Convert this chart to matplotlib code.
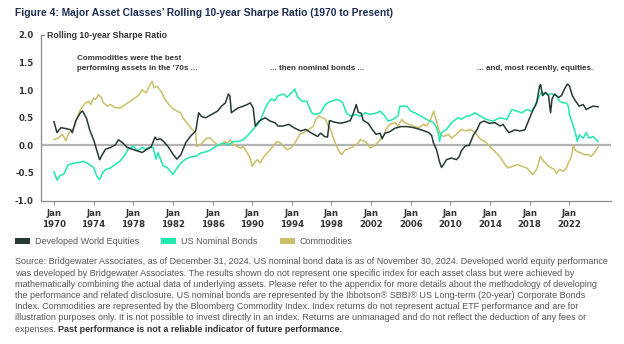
import numpy as np
import matplotlib
matplotlib.use("Agg")
import matplotlib.pyplot as plt
from matplotlib.patches import Rectangle

# ----------------------------------
# data (decimal years)
eq_years = [1970.0, 1970.3, 1970.7, 1971.3, 1971.7, 1971.85, 1972.2, 1972.7, 1972.9, 1973.3,
            1973.6, 1974.0, 1974.3, 1974.6, 1974.9, 1975.2, 1975.7, 1976.2, 1976.5, 1976.9,
            1977.4, 1977.9, 1978.4, 1978.9, 1979.3, 1979.8, 1980.2, 1980.4, 1980.7, 1981.0,
            1981.5, 1982.0, 1982.4, 1982.8, 1983.3, 1983.8, 1984.3, 1984.6, 1984.9, 1985.3,
            1985.8, 1986.5, 1986.9, 1987.3, 1987.6, 1987.75, 1987.9, 1988.1, 1988.6, 1989.1,
            1989.5, 1989.8, 1990.1, 1990.3, 1990.7, 1991.0, 1991.3, 1991.8, 1992.3, 1992.6,
            1993.1, 1993.7, 1994.2, 1994.9, 1995.4, 1995.9, 1996.6, 1996.9, 1997.3, 1997.6,
            1997.8, 1998.3, 1998.9, 1999.4, 1999.9, 2000.2, 2000.5, 2000.7, 2001.0, 2001.2,
            2001.7, 2002.1, 2002.5, 2002.9, 2003.1, 2003.4, 2003.9, 2004.4, 2005.0, 2005.6,
            2006.3, 2006.9, 2007.4, 2007.8, 2008.1, 2008.3, 2008.6, 2008.9, 2009.1, 2009.3,
            2009.6, 2010.1, 2010.6, 2010.9, 2011.1, 2011.5, 2011.9, 2012.3, 2012.7, 2013.0,
            2013.4, 2013.9, 2014.5, 2015.0, 2015.3, 2015.6, 2015.9, 2016.5, 2017.0, 2017.5,
            2017.8, 2018.2, 2018.7, 2019.0, 2019.1, 2019.3, 2019.6, 2019.9, 2020.1, 2020.25,
            2020.5, 2020.9, 2021.2, 2021.5, 2021.8, 2022.0, 2022.3, 2022.6, 2023.0, 2023.4,
            2023.7, 2024.0, 2024.4, 2024.9]
eq_values = [0.43, 0.23, 0.32, 0.30, 0.28, 0.23, 0.45, 0.60, 0.62, 0.48,
             0.28, 0.10, -0.08, -0.26, -0.16, -0.07, -0.04, 0.01, 0.10, 0.05,
             -0.04, -0.07, -0.10, -0.13, -0.08, -0.03, 0.15, 0.10, 0.12, 0.08,
             -0.02, -0.16, -0.25, -0.17, 0.05, 0.17, 0.26, 0.59, 0.52, 0.50,
             0.55, 0.62, 0.71, 0.77, 0.93, 0.89, 0.59, 0.62, 0.68, 0.71,
             0.74, 0.77, 0.68, 0.35, 0.44, 0.47, 0.50, 0.44, 0.41, 0.35,
             0.35, 0.38, 0.32, 0.26, 0.29, 0.23, 0.16, 0.22, 0.16, 0.15,
             0.45, 0.42, 0.40, 0.42, 0.45, 0.58, 0.74, 0.60, 0.58, 0.45,
             0.40, 0.29, 0.20, 0.22, 0.12, 0.22, 0.25, 0.31, 0.34, 0.34,
             0.32, 0.29, 0.26, 0.23, 0.18, 0.04, -0.08, -0.30, -0.40, -0.35,
             -0.26, -0.23, -0.26, -0.20, -0.10, -0.01, 0.00, 0.18, 0.29, 0.41,
             0.44, 0.40, 0.41, 0.35, 0.38, 0.30, 0.23, 0.28, 0.26, 0.28,
             0.41, 0.59, 0.77, 1.08, 1.10, 0.90, 0.96, 0.90, 0.59, 0.84,
             0.93, 0.87, 0.90, 1.02, 1.11, 1.08, 0.90, 0.81, 0.71, 0.74,
             0.65, 0.68, 0.71, 0.70]

bd_years = [1970.0, 1970.3, 1970.6, 1971.0, 1971.4, 1971.8, 1972.5, 1973.0, 1973.5, 1974.0,
            1974.3, 1974.6, 1974.9, 1975.2, 1975.7, 1976.3, 1976.7, 1977.2, 1977.5, 1978.0,
            1978.4, 1978.9, 1979.2, 1979.7, 1980.0, 1980.3, 1980.5, 1981.0, 1981.4, 1981.7,
            1982.0, 1982.3, 1982.8, 1983.3, 1983.8, 1984.3, 1984.8, 1985.5, 1986.1, 1986.6,
            1987.1, 1987.6, 1988.1, 1988.6, 1989.1, 1989.6, 1990.1, 1990.7, 1991.0, 1991.4,
            1991.9, 1992.3, 1992.6, 1993.2, 1993.5, 1994.0, 1994.3, 1994.6, 1995.0, 1995.5,
            1996.0, 1996.3, 1996.9, 1997.3, 1997.6, 1998.0, 1998.5, 1999.0, 1999.2, 1999.5,
            1999.9, 2000.4, 2000.9, 2001.4, 2001.9, 2002.6, 2002.9, 2003.4, 2003.7, 2004.2,
            2004.7, 2004.9, 2005.6, 2006.0, 2006.4, 2007.0, 2007.6, 2008.3, 2008.6, 2008.8,
            2008.9, 2009.1, 2009.6, 2010.0, 2010.3, 2010.8, 2011.1, 2011.6, 2011.9, 2012.5,
            2013.0, 2013.6, 2014.3, 2015.0, 2015.7, 2016.2, 2016.7, 2017.2, 2017.7, 2018.2,
            2018.5, 2018.9, 2019.2, 2019.7, 2020.2, 2020.7, 2021.0, 2021.4, 2021.7, 2021.9,
            2022.0, 2022.4, 2022.6, 2022.8, 2023.0, 2023.4, 2023.7, 2024.0, 2024.4, 2024.7,
            2024.9]
bd_values = [-0.48, -0.63, -0.55, -0.52, -0.36, -0.33, -0.31, -0.29, -0.34, -0.40,
             -0.55, -0.62, -0.50, -0.44, -0.41, -0.33, -0.28, -0.16, -0.07, -0.01,
             -0.10, -0.04, -0.07, -0.03, -0.04, -0.25, -0.13, -0.37, -0.40, -0.46,
             -0.53, -0.44, -0.32, -0.25, -0.21, -0.20, -0.14, -0.11, -0.05, 0.01,
             0.04, 0.01, 0.07, 0.07, 0.10, 0.19, 0.29, 0.41, 0.53, 0.71,
             0.84, 0.81, 0.90, 0.93, 0.87, 0.96, 1.02, 0.87, 0.80, 0.80,
             0.59, 0.56, 0.59, 0.72, 0.77, 0.80, 0.83, 0.80, 0.74, 0.59,
             0.53, 0.56, 0.53, 0.59, 0.56, 0.59, 0.62, 0.53, 0.44, 0.47,
             0.53, 0.71, 0.71, 0.62, 0.59, 0.53, 0.47, 0.41, 0.32, 0.20,
             0.07, 0.23, 0.29, 0.38, 0.44, 0.50, 0.47, 0.53, 0.53, 0.59,
             0.53, 0.47, 0.44, 0.50, 0.47, 0.65, 0.62, 0.59, 0.65, 0.62,
             0.71, 0.87, 0.96, 0.93, 0.93, 0.90, 0.80, 0.77, 0.77, 0.71,
             0.56, 0.35, 0.23, 0.07, 0.19, 0.13, 0.23, 0.13, 0.16, 0.10,
             0.07]

cm_years = [1970.0, 1970.5, 1970.85, 1971.2, 1971.5, 1971.85, 1972.2, 1972.4, 1972.6, 1972.9,
            1973.2, 1973.5, 1973.7, 1974.0, 1974.2, 1974.5, 1974.8, 1975.0, 1975.4, 1975.7,
            1976.2, 1976.7, 1977.2, 1977.7, 1978.2, 1978.6, 1978.9, 1979.3, 1979.6, 1979.9,
            1980.1, 1980.4, 1980.9, 1981.2, 1981.6, 1982.1, 1982.76, 1983.1, 1983.4, 1983.8,
            1984.1, 1984.3, 1984.4, 1984.8, 1985.1, 1985.4, 1985.8, 1986.1, 1986.5, 1986.9,
            1987.2, 1987.5, 1987.8, 1988.1, 1988.5, 1988.8, 1989.1, 1989.5, 1989.8, 1990.0,
            1990.2, 1990.5, 1990.8, 1991.2, 1991.5, 1991.8, 1992.2, 1992.5, 1992.9, 1993.2,
            1993.5, 1993.9, 1994.2, 1994.4, 1994.8, 1995.2, 1995.7, 1996.2, 1996.4, 1996.7,
            1997.1, 1997.4, 1997.6, 1997.9, 1998.2, 1998.5, 1998.8, 1999.0, 1999.4, 1999.9,
            2000.2, 2000.7, 2000.9, 2001.4, 2001.7, 2001.9, 2002.2, 2002.6, 2002.9, 2003.2,
            2003.6, 2003.9, 2004.4, 2004.7, 2005.1, 2005.4, 2005.8, 2006.3, 2006.8, 2007.3,
            2007.6, 2008.0, 2008.3, 2008.55, 2008.8, 2009.0, 2009.3, 2009.8, 2010.1, 2010.6,
            2011.1, 2011.5, 2012.0, 2012.5, 2012.8, 2013.1, 2013.5, 2013.8, 2014.3, 2014.8,
            2015.2, 2015.5, 2015.8, 2016.3, 2016.8, 2017.2, 2017.7, 2018.0, 2018.3, 2018.7,
            2018.9, 2019.0, 2019.1, 2019.4, 2019.6, 2019.9, 2020.2, 2020.5, 2020.7, 2021.0,
            2021.4, 2021.7, 2021.9, 2022.2, 2022.4, 2022.6, 2022.9, 2023.2, 2023.5, 2023.9,
            2024.2, 2024.5, 2024.9]
cm_values = [0.10, 0.14, 0.20, 0.08, 0.23, 0.26, 0.41, 0.53, 0.62, 0.71,
             0.77, 0.80, 0.74, 0.86, 0.83, 0.92, 0.86, 0.77, 0.71, 0.74,
             0.68, 0.68, 0.74, 0.80, 0.86, 0.92, 1.01, 0.95, 1.07, 1.16,
             1.04, 1.07, 0.95, 0.83, 0.74, 0.65, 0.59, 0.48, 0.41, 0.32,
             0.26, 0.22, -0.02, 0.01, 0.07, 0.13, 0.13, 0.07, 0.01, 0.01,
             0.07, 0.04, 0.10, 0.01, -0.02, -0.05, -0.02, -0.14, -0.23, -0.38,
             -0.32, -0.26, -0.32, -0.20, -0.14, -0.08, 0.01, 0.07, 0.04, -0.02,
             -0.08, -0.05, 0.01, 0.07, 0.20, 0.23, 0.29, 0.35, 0.47, 0.53,
             0.50, 0.47, 0.38, 0.29, 0.13, -0.02, -0.11, -0.17, -0.08, -0.05,
             -0.02, 0.04, 0.10, 0.07, 0.01, -0.05, -0.02, 0.04, 0.10, 0.16,
             0.32, 0.38, 0.41, 0.35, 0.47, 0.41, 0.38, 0.35, 0.32, 0.38,
             0.35, 0.47, 0.62, 0.47, 0.29, 0.20, 0.16, 0.20, 0.13, 0.20,
             0.29, 0.26, 0.29, 0.23, 0.16, 0.10, 0.07, 0.01, -0.08, -0.17,
             -0.26, -0.35, -0.41, -0.38, -0.35, -0.38, -0.41, -0.47, -0.53, -0.44,
             -0.32, -0.23, -0.20, -0.29, -0.32, -0.38, -0.41, -0.44, -0.51, -0.44,
             -0.47, -0.41, -0.32, -0.20, 0.00, -0.09, -0.12, -0.14, -0.17, -0.17,
             -0.20, -0.14, -0.03]

series_names = ["Developed World Equities", "US Nominal Bonds", "Commodities"]
series_colors = ["#263a33", "#20e8b0", "#cbbf6a"]

tick_years = list(range(1970, 2023, 4))
tick_labels = [f"Jan\n{y}" for y in tick_years]
y_ticks = [-1.0, -0.5, 0.0, 0.5, 1.0, 1.5, 2.0]

title = "Figure 4: Major Asset Classes\u2019 Rolling 10-year Sharpe Ratio (1970 to Present)"
footnote = [
    "Source: Bridgewater Associates, as of December 31, 2024. US nominal bond data is as of November 30, 2024. Developed world equity performance",
    "was developed by Bridgewater Associates. The results shown do not represent one specific index for each asset class but were achieved by",
    "mathematically combining the actual data of underlying assets. Please refer to the appendix for more details about the methodology of developing",
    "the performance and related disclosure. US nominal bonds are represented by the Ibbotson\u00ae SBBI\u00ae US Long-term (20-year) Corporate Bonds",
    "Index. Commodities are represented by the Bloomberg Commodity Index. Index returns do not represent actual ETF performance and are for",
    "illustration purposes only. It is not possible to invest directly in an index. Returns are unmanaged and do not reflect the deduction of any fees or",
]
foot_last = "expenses. "
foot_bold = "Past performance is not a reliable indicator of future performance."

# ----------------------------------
W, H = 624, 344
plt.rcParams['font.family'] = ['Liberation Sans', 'DejaVu Sans']
fig = plt.figure(figsize=(W / 100, H / 100), dpi=100)
renderer = fig.canvas.get_renderer()


def fx(px):
    return px / W


def fy(py):
    return 1 - py / H


def fit(t, width_px):
    bb = t.get_window_extent(renderer)
    t.set_fontsize(t.get_fontsize() * width_px / bb.width)
    return t


ax = fig.add_axes([fx(40.7), fy(200.5), fx(611) - fx(40.7), fy(35) - fy(200.5)])
ax.set_xlim(1968.66, 2026.2)
ax.set_ylim(-1.0, 2.0)

ax.axhline(0, color="#b4b4b4", lw=1.6, zorder=1)
ax.plot(cm_years, cm_values, color=series_colors[2], lw=1.1, zorder=2)
ax.plot(bd_years, bd_values, color=series_colors[1], lw=1.1, zorder=3)
ax.plot(eq_years, eq_values, color=series_colors[0], lw=1.1, zorder=4)

for s in ["top", "right"]:
    ax.spines[s].set_visible(False)
for s in ["left", "bottom"]:
    ax.spines[s].set_color("#8a8a8a")
    ax.spines[s].set_linewidth(0.9)

ax.set_xticks(tick_years)
ax.set_xticklabels(tick_labels, fontsize=6.2, fontweight="bold", color="#333333",
                   family="DejaVu Sans", linespacing=1.25)
ax.tick_params(axis="x", length=3, width=0.7, color="#8a8a8a", pad=3)
ax.set_yticks(y_ticks)
ax.set_yticklabels([f"{v:.1f}" for v in y_ticks], fontsize=6.2, fontweight="bold",
                   color="#333333", family="DejaVu Sans")
ax.tick_params(axis="y", length=0, pad=5)
# small cap tick at top of y axis
ax.plot([0, 0.006], [1, 1], transform=ax.transAxes, color="#8a8a8a", lw=0.9, clip_on=False)

ax.text(0.011, 1.0, "Rolling 10-year Sharpe Ratio", transform=ax.transAxes,
        ha="left", va="center", fontsize=6.3, fontweight="bold", color="#333333")

# annotations
t = fig.text(fx(76.7), fy(58.5), "Commodities were the best", ha="left", va="center",
             fontsize=6, fontweight="bold", color="#333333")
t2 = fig.text(fx(76.7), fy(68.5), "performing assets in the \u201970s ...", ha="left", va="center",
              fontsize=6, fontweight="bold", color="#333333")
fit(t2, 123)
t.set_fontsize(t2.get_fontsize())
t3 = fig.text(fx(270), fy(68.5), "... then nominal bonds ...", ha="left", va="center",
              fontsize=t2.get_fontsize(), fontweight="bold", color="#333333")
t4 = fig.text(fx(476.7), fy(68.5), "... and, most recently, equities.", ha="left", va="center",
              fontsize=t2.get_fontsize(), fontweight="bold", color="#333333")

# title
tt = fig.text(fx(15), fy(13.5), title, ha="left", va="center", fontsize=7,
              fontweight="bold", color="#1c2b50")
fit(tt, 378)

# legend
leg_x = [15, 161, 280]
for i, (name, col) in enumerate(zip(series_names, series_colors)):
    x0 = leg_x[i]
    fig.patches.append(Rectangle((fx(x0), fy(244)), fx(14.5), 6 / H, transform=fig.transFigure,
                                 facecolor=col, edgecolor="none"))
    fig.text(fx(x0 + 20), fy(241), name, ha="left", va="center", fontsize=6.5, color="#555555")

# footnote
ft = fig.text(fx(15), fy(262), footnote[0], ha="left", va="center", fontsize=6, color="#555555")
fit(ft, 597)
fs = ft.get_fontsize()
for i, line in enumerate(footnote[1:], start=1):
    fig.text(fx(15), fy(262 + 11.2 * i), line, ha="left", va="center", fontsize=fs, color="#555555")
yl = 262 + 11.2 * 6
tl = fig.text(fx(15), fy(yl), foot_last, ha="left", va="center", fontsize=fs, color="#555555")
bb = tl.get_window_extent(renderer)
fig.text(bb.x1 / W, fy(yl), foot_bold, ha="left", va="center", fontsize=fs,
         fontweight="bold", color="#333333")

fig.savefig("out.png", dpi=100)
